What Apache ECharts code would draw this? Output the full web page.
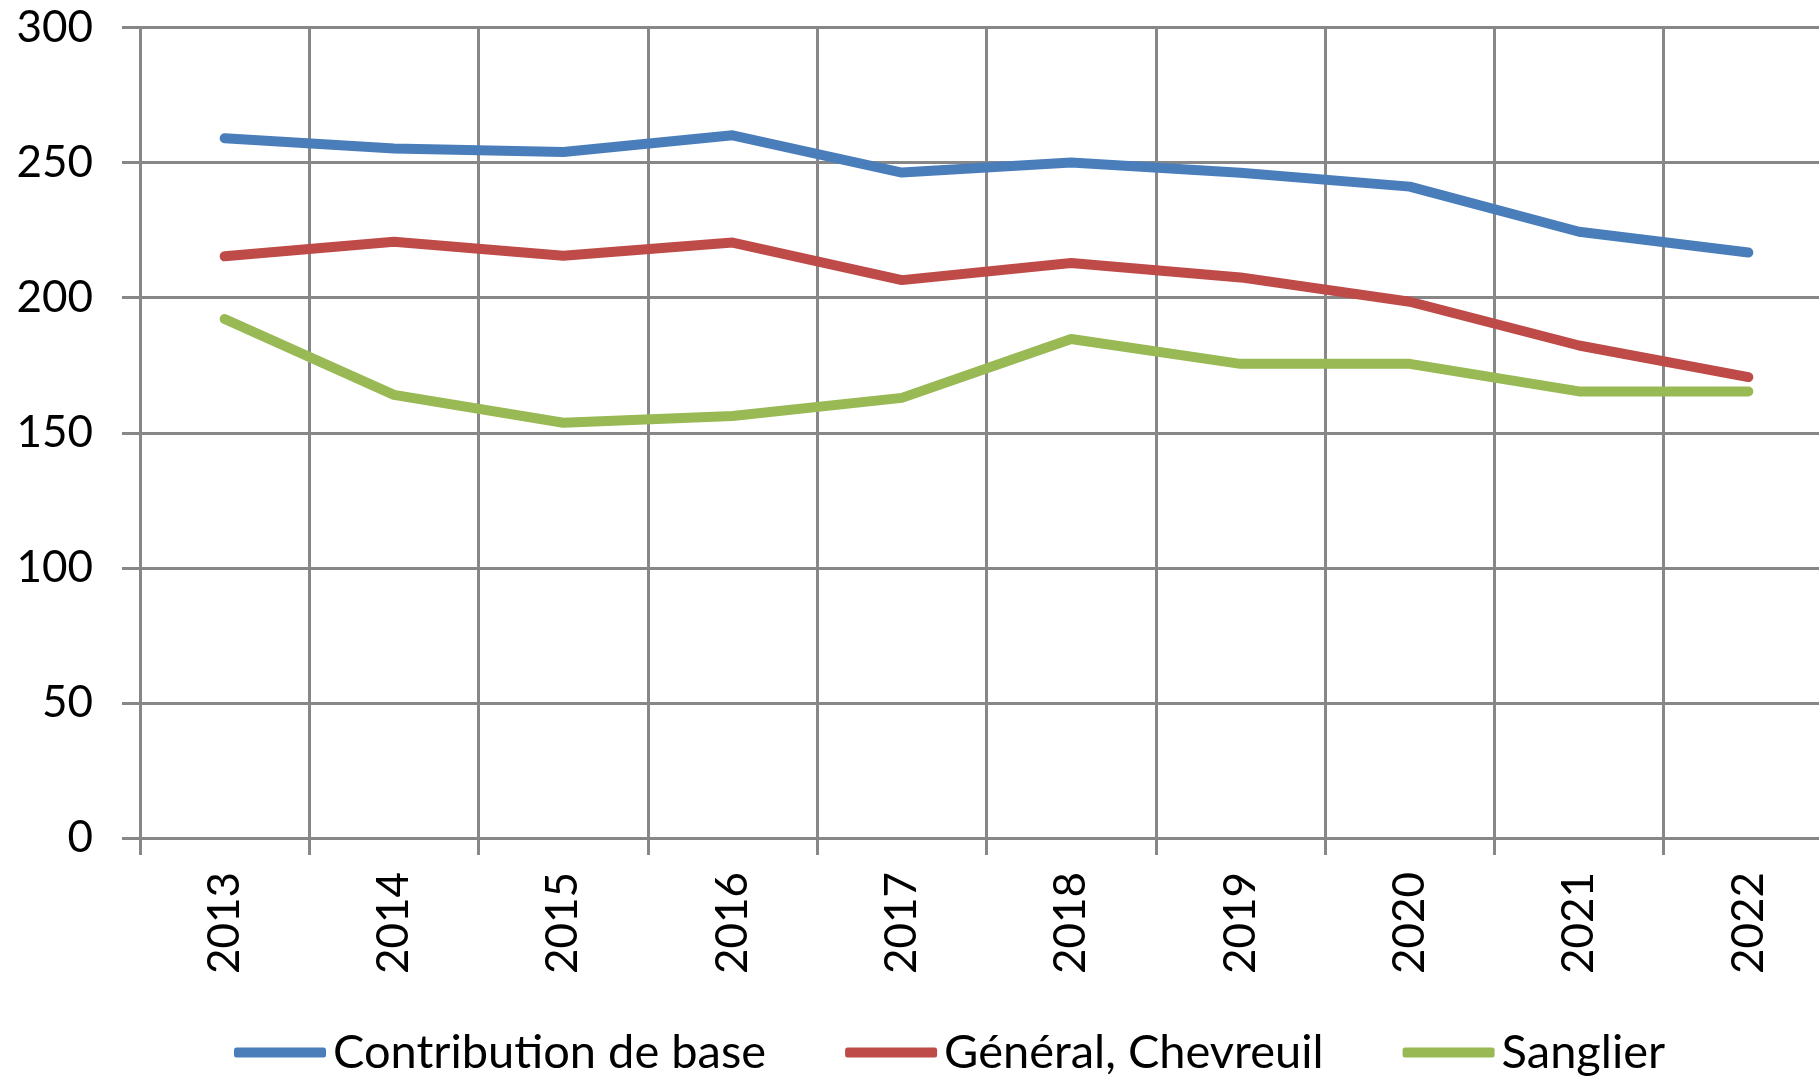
<!DOCTYPE html>
<html>
<head>
<meta charset="utf-8">
<style>
  html, body { margin: 0; padding: 0; background: #fff; overflow: hidden; }
  #chart { width: 1840px; height: 1078px; }
</style>
<script src="https://cdn.jsdelivr.net/npm/echarts@6/dist/echarts.min.js"></script>
</head>
<body>
<div id="chart"></div>
<script>
const years = ['2013', '2014', '2015', '2016', '2017', '2018', '2019', '2020', '2021', '2022'];
const contributionBase = [259, 255.2, 253.9, 260.1, 246.3, 250, 246.2, 241.1, 224.4, 216.7];
const generalChevreuil = [215.3, 220.7, 215.5, 220.4, 206.5, 212.8, 207.5, 198.5, 182.3, 170.6];
const sanglier = [192.1, 164, 153.7, 156.2, 162.9, 184.7, 175.5, 175.5, 165.3, 165.3];

const seriesNames = ['Contribution de base', 'Général, Chevreuil', 'Sanglier'];
const seriesColors = ['#4a7ebb', '#be4b48', '#98b954'];
const seriesData = [contributionBase, generalChevreuil, sanglier];

const font = 'Lato, "Open Sans", sans-serif';
const gridColor = '#878787';

const chart = echarts.init(document.getElementById('chart'));

chart.setOption({
  animation: false,
  grid: {
    left: 140, top: 27.5, width: 1693, height: 810.5,
    containLabel: false, outerBoundsMode: 'none',
  },
  legend: {
    left: 229,
    top: 1024,
    icon: 'roundRect',
    itemWidth: 92,
    itemHeight: 10,
    itemGap: 79,
    textStyle: { fontFamily: font, fontSize: 47, color: '#000', padding: [0, 0, 0, 2] },
    data: seriesNames,
  },
  xAxis: {
    type: 'category',
    data: years,
    boundaryGap: true,
    axisLine: { show: false },
    axisTick: { show: true, length: 17, lineStyle: { color: gridColor, width: 3 } },
    splitLine: { show: true, lineStyle: { color: gridColor, width: 3 } },
    axisLabel: {
      rotate: 90,
      margin: 34,
      fontFamily: font,
      fontSize: 44,
      color: '#000',
    },
  },
  yAxis: {
    type: 'value',
    min: 0,
    max: 300,
    interval: 50,
    axisLine: { show: false },
    axisTick: { show: true, length: 18, lineStyle: { color: gridColor, width: 3 } },
    splitLine: { show: true, lineStyle: { color: gridColor, width: 3 } },
    axisLabel: {
      margin: 47,
      fontFamily: font,
      fontSize: 44,
      color: '#000',
    },
  },
  series: seriesNames.map((name, i) => ({
    name,
    type: 'line',
    data: seriesData[i],
    showSymbol: false,
    symbol: 'none',
    itemStyle: { color: seriesColors[i] },
    lineStyle: { color: seriesColors[i], width: 10, cap: 'round', join: 'round' },
  })),
});
</script>
</body>
</html>
